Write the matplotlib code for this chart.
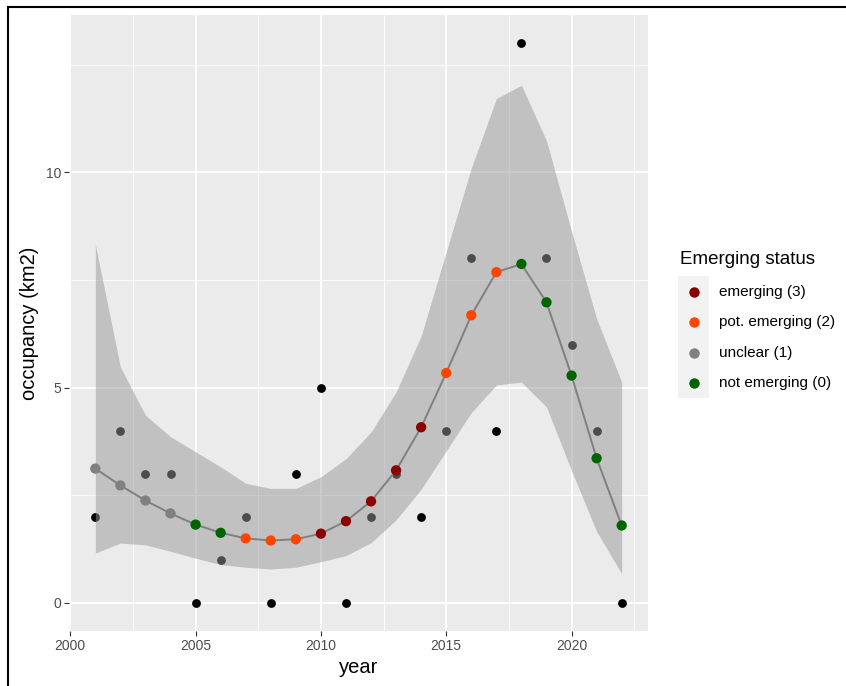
import matplotlib
matplotlib.use("Agg")
import matplotlib.pyplot as plt
from matplotlib.patches import Rectangle
from matplotlib.lines import Line2D

# ---- data -------------------------------------------------------------
years = [2001, 2002, 2003, 2004, 2005, 2006, 2007, 2008, 2009, 2010, 2011,
         2012, 2013, 2014, 2015, 2016, 2017, 2018, 2019, 2020, 2021, 2022]
observed = [2, 4, 3, 3, 0, 1, 2, 0, 3, 5, 0, 2, 3, 2, 4, 8, 4, 13, 8, 6, 4, 0]
fitted = [3.12, 2.73, 2.38, 2.08, 1.82, 1.63, 1.50, 1.45, 1.48, 1.61, 1.90,
          2.36, 3.08, 4.08, 5.34, 6.68, 7.68, 7.87, 6.98, 5.28, 3.36, 1.80]
ci_lower = [1.16, 1.39, 1.35, 1.20, 1.04, 0.89, 0.83, 0.79, 0.83, 0.96, 1.10,
            1.40, 1.93, 2.64, 3.53, 4.42, 5.06, 5.13, 4.55, 3.07, 1.66, 0.68]
ci_upper = [8.32, 5.48, 4.36, 3.86, 3.51, 3.16, 2.78, 2.66, 2.66, 2.93, 3.35,
            3.97, 4.90, 6.20, 8.15, 10.10, 11.71, 12.02, 10.73, 8.63, 6.60, 5.13]
status = [1, 1, 1, 1, 0, 0, 2, 2, 2, 3, 3, 3, 3, 3, 2, 2, 2, 0, 0, 0, 0, 0]

status_codes = [3, 2, 1, 0]
status_labels = ["emerging (3)", "pot. emerging (2)", "unclear (1)", "not emerging (0)"]
status_colors = {3: "#8B0000", 2: "#FF4500", 1: "#808080", 0: "#006400"}

# ---- figure -----------------------------------------------------------
W, H = 846, 686
plt.rcParams['font.family'] = ['Liberation Sans', 'DejaVu Sans']
fig = plt.figure(figsize=(W / 100, H / 100), dpi=100)


def fx(x):
    return x / W


def fy(y):
    return 1 - y / H


ax = fig.add_axes([fx(69), fy(631), (648 - 69) / W, (631 - 15) / H])
ax.set_facecolor('#EBEBEB')
for sp in ax.spines.values():
    sp.set_visible(False)

ax.set_xlim(1999.95, 2023.05)
ax.set_ylim(-0.65, 13.65)
ax.set_xticks([2000, 2005, 2010, 2015, 2020])
ax.set_xticks([2002.5, 2007.5, 2012.5, 2017.5, 2022.5], minor=True)
ax.set_yticks([0, 5, 10])
ax.set_yticks([2.5, 7.5, 12.5], minor=True)
ax.grid(which='major', color='white', lw=1.3)
ax.grid(which='minor', color='white', lw=0.6)
ax.set_axisbelow(True)
ax.tick_params(which='minor', length=0)
ax.tick_params(which='major', length=3.5, width=0.8, color='#333333',
               labelcolor='#4D4D4D', labelsize=10, pad=2)

# observed values
ax.scatter(years, observed, s=40, color='black', zorder=2, linewidths=0)
# confidence band
ax.fill_between(years, ci_lower, ci_upper, color='#999999', alpha=0.5,
                linewidth=0, zorder=3)
# smoothed trend
ax.plot(years, fitted, color='#808080', lw=1.4, zorder=4)
ax.scatter(years, fitted, s=55, c=[status_colors[s] for s in status],
           linewidths=0, zorder=5)

ax.set_xlabel('year', fontsize=14.5, labelpad=4)
ax.set_ylabel('occupancy (km2)', fontsize=14.5, labelpad=5)

# ---- legend -----------------------------------------------------------
fig.text(fx(680), fy(259), 'Emerging status', fontsize=13.5,
         ha='left', va='center')
fig.patches.append(Rectangle((fx(678), fy(398)), 31 / W, 122 / H,
                             transform=fig.transFigure, facecolor='#F2F2F2',
                             edgecolor='none'))
for i, (code, lab) in enumerate(zip(status_codes, status_labels)):
    yy = 292 + 30.3 * i
    fig.add_artist(Line2D([fx(694)], [fy(yy)], marker='o', ms=7.5,
                          color=status_colors[code], markeredgewidth=0,
                          linestyle='none', transform=fig.transFigure))
    fig.text(fx(719), fy(yy), lab, fontsize=11, ha='left', va='center')

# ---- frame ------------------------------------------------------------
fig.add_artist(Line2D([fx(8), fx(8)], [0, fy(6.5)], color='black', lw=1.5,
                      transform=fig.transFigure, solid_capstyle='projecting'))
fig.add_artist(Line2D([fx(8), 1], [fy(6.5), fy(6.5)], color='black', lw=1.5,
                      transform=fig.transFigure, solid_capstyle='projecting'))

fig.savefig('out.png', dpi=100)
